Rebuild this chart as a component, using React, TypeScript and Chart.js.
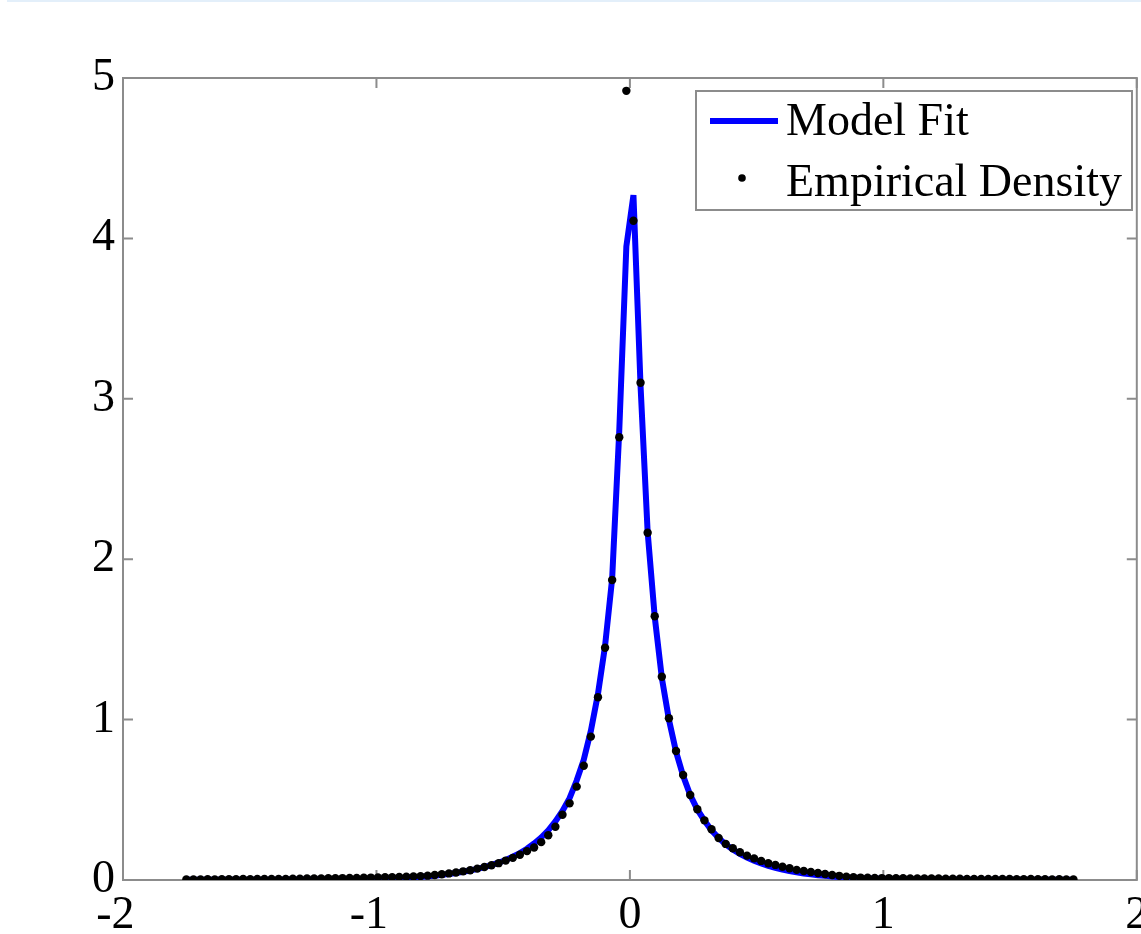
import React, { useEffect, useRef } from "react";
import { Chart, registerables } from "chart.js";

Chart.register(...registerables);

// x grid (bin centres) shared by both series
const xGrid: number[] = [
  -1.750, -1.722, -1.694, -1.666, -1.638, -1.610, -1.582, -1.554, -1.526, -1.498,
  -1.470, -1.442, -1.414, -1.386, -1.358, -1.330, -1.302, -1.274, -1.246, -1.218,
  -1.190, -1.162, -1.134, -1.106, -1.078, -1.050, -1.022, -0.994, -0.966, -0.938,
  -0.910, -0.882, -0.854, -0.826, -0.798, -0.770, -0.742, -0.714, -0.686, -0.658,
  -0.630, -0.602, -0.574, -0.546, -0.518, -0.490, -0.462, -0.434, -0.406, -0.378,
  -0.350, -0.322, -0.294, -0.266, -0.238, -0.210, -0.182, -0.154, -0.126, -0.098,
  -0.070, -0.042, -0.014,
  0.014, 0.042, 0.070, 0.098, 0.126, 0.154, 0.182, 0.210, 0.238, 0.266,
  0.294, 0.322, 0.350, 0.378, 0.406, 0.434, 0.462, 0.490, 0.518, 0.546,
  0.574, 0.602, 0.630, 0.658, 0.686, 0.714, 0.742, 0.770, 0.798, 0.826,
  0.854, 0.882, 0.910, 0.938, 0.966, 0.994, 1.022, 1.050, 1.078, 1.106,
  1.134, 1.162, 1.190, 1.218, 1.246, 1.274, 1.302, 1.330, 1.358, 1.386,
  1.414, 1.442, 1.470, 1.498, 1.526, 1.554, 1.582, 1.610, 1.638, 1.666,
  1.694, 1.722, 1.750,
];

const empiricalDensity: number[] = [
  0.004, 0.004, 0.004, 0.005, 0.004, 0.005, 0.005, 0.005, 0.006, 0.005,
  0.006, 0.006, 0.007, 0.006, 0.007, 0.008, 0.008, 0.009, 0.009, 0.010,
  0.011, 0.011, 0.012, 0.013, 0.013, 0.014, 0.015, 0.016, 0.017, 0.018,
  0.019, 0.020, 0.022, 0.024, 0.027, 0.031, 0.036, 0.041, 0.047, 0.054,
  0.061, 0.071, 0.081, 0.092, 0.105, 0.121, 0.138, 0.157, 0.180, 0.203,
  0.236, 0.279, 0.332, 0.407, 0.478, 0.582, 0.712, 0.894, 1.139, 1.448,
  1.870, 2.760, 4.920,
  4.110, 3.100, 2.165, 1.644, 1.267, 1.008, 0.804, 0.655, 0.530, 0.441,
  0.372, 0.316, 0.262, 0.225, 0.198, 0.173, 0.152, 0.135, 0.119, 0.104,
  0.094, 0.083, 0.073, 0.063, 0.056, 0.050, 0.044, 0.037, 0.031, 0.026,
  0.021, 0.018, 0.015, 0.014, 0.013, 0.012, 0.012, 0.011, 0.011, 0.010,
  0.010, 0.009, 0.009, 0.009, 0.008, 0.008, 0.008, 0.007, 0.007, 0.007,
  0.006, 0.006, 0.006, 0.006, 0.005, 0.005, 0.006, 0.005, 0.005, 0.004,
  0.005, 0.004, 0.004,
];

const modelFit: number[] = [
  0.001, 0.001, 0.001, 0.001, 0.001, 0.001, 0.001, 0.002, 0.002, 0.002,
  0.002, 0.002, 0.002, 0.002, 0.003, 0.003, 0.003, 0.003, 0.004, 0.004,
  0.004, 0.005, 0.005, 0.006, 0.006, 0.007, 0.008, 0.008, 0.009, 0.010,
  0.012, 0.014, 0.017, 0.020, 0.023, 0.027, 0.032, 0.037, 0.044, 0.051,
  0.059, 0.069, 0.080, 0.093, 0.108, 0.125, 0.145, 0.168, 0.195, 0.228,
  0.265, 0.310, 0.365, 0.430, 0.510, 0.620, 0.750, 0.930, 1.160, 1.460,
  1.880, 2.800, 3.950,
  4.270, 3.080, 2.170, 1.640, 1.260, 1.000, 0.800, 0.650, 0.530, 0.440,
  0.370, 0.310, 0.262, 0.222, 0.190, 0.163, 0.140, 0.120, 0.103, 0.088,
  0.076, 0.065, 0.056, 0.048, 0.041, 0.035, 0.030, 0.026, 0.022, 0.019,
  0.016, 0.014, 0.012, 0.010, 0.009, 0.008, 0.007, 0.006, 0.006, 0.005,
  0.005, 0.004, 0.004, 0.004, 0.003, 0.003, 0.003, 0.003, 0.002, 0.002,
  0.002, 0.002, 0.002, 0.002, 0.002, 0.001, 0.001, 0.001, 0.001, 0.001,
  0.001, 0.001, 0.001,
];

const xTicks: number[] = [-2, -1, 0, 1, 2];
const yTicks: number[] = [0, 1, 2, 3, 4, 5];
const seriesNames: string[] = ["Model Fit", "Empirical Density"];

const FONT = "46px 'Liberation Serif', 'Times New Roman', serif";
const FRAME = "#8c8c8c";
const BLUE = "rgb(0,0,255)";

const axesPlugin = {
  id: "matlabAxes",
  beforeDatasetsDraw(chart: any) {
    const { ctx, chartArea: a, scales } = chart;
    const xs = scales.x;
    const ys = scales.y;
    ctx.save();
    ctx.strokeStyle = FRAME;
    ctx.lineWidth = 2;
    ctx.strokeRect(a.left, a.top, a.right - a.left, a.bottom - a.top);
    const tl = 10;
    ctx.beginPath();
    for (const v of xTicks) {
      const px = xs.getPixelForValue(v);
      ctx.moveTo(px, a.bottom);
      ctx.lineTo(px, a.bottom - tl);
      ctx.moveTo(px, a.top);
      ctx.lineTo(px, a.top + tl);
    }
    for (const v of yTicks) {
      const py = ys.getPixelForValue(v);
      ctx.moveTo(a.left, py);
      ctx.lineTo(a.left + tl, py);
      ctx.moveTo(a.right, py);
      ctx.lineTo(a.right - tl, py);
    }
    ctx.stroke();

    // x tick labels: digits centred on tick, minus sign hanging to the left
    ctx.fillStyle = "#000";
    ctx.font = FONT;
    ctx.textBaseline = "alphabetic";
    ctx.textAlign = "left";
    for (const v of xTicks) {
      const px = xs.getPixelForValue(v);
      const label = String(v);
      const digits = String(Math.abs(v));
      const dw = ctx.measureText(digits).width;
      const fw = ctx.measureText(label).width;
      ctx.fillText(label, px + dw / 2 - fw, a.bottom + 48);
    }
    ctx.restore();
  },
  afterDatasetsDraw(chart: any) {
    const { ctx } = chart;
    ctx.save();
    // legend box
    const bx = 696, by = 91, bw = 436, bh = 119;
    ctx.fillStyle = "#fff";
    ctx.fillRect(bx, by, bw, bh);
    ctx.strokeStyle = FRAME;
    ctx.lineWidth = 2;
    ctx.strokeRect(bx, by, bw, bh);
    // model fit sample
    ctx.strokeStyle = BLUE;
    ctx.lineWidth = 6;
    ctx.beginPath();
    ctx.moveTo(710, 121);
    ctx.lineTo(778, 121);
    ctx.stroke();
    // dot sample
    ctx.fillStyle = "#000";
    ctx.beginPath();
    ctx.arc(742, 178, 3.8, 0, Math.PI * 2);
    ctx.fill();
    ctx.font = FONT;
    ctx.textAlign = "left";
    ctx.textBaseline = "alphabetic";
    ctx.fillText(seriesNames[0], 786, 135);
    ctx.fillText(seriesNames[1], 786, 196);
    ctx.restore();
  },
};

export default function App() {
  const ref = useRef<HTMLCanvasElement | null>(null);

  useEffect(() => {
    if (!ref.current) return;
    const modelPts = xGrid.map((x, i) => ({ x, y: modelFit[i] }));
    const empPts = xGrid.map((x, i) => ({ x, y: empiricalDensity[i] }));
    const chart = new Chart(ref.current, {
      type: "scatter",
      data: {
        datasets: [
          {
            label: seriesNames[0],
            data: modelPts,
            showLine: true,
            borderColor: BLUE,
            backgroundColor: BLUE,
            borderWidth: 6,
            pointRadius: 0,
            tension: 0,
            order: 2,
          },
          {
            label: seriesNames[1],
            data: empPts,
            showLine: false,
            pointRadius: 4.2,
            pointBackgroundColor: "#000",
            pointBorderColor: "#000",
            pointBorderWidth: 0,
            backgroundColor: "#000",
            borderColor: "#000",
            order: 1,
          },
        ],
      },
      options: {
        animation: false,
        responsive: false,
        devicePixelRatio: 1,
        events: [],
        layout: { padding: { left: 0, top: 78, right: 2, bottom: 0 } },
        plugins: {
          legend: { display: false },
          tooltip: { enabled: false },
          title: { display: false },
        },
        scales: {
          x: {
            type: "linear",
            min: -2,
            max: 2,
            grid: { display: false },
            border: { display: false },
            ticks: { display: false },
            afterFit: (s: any) => {
              s.height = 54;
            },
          },
          y: {
            type: "linear",
            min: 0,
            max: 5,
            grid: { display: false, drawTicks: false },
            border: { display: false },
            ticks: {
              stepSize: 1,
              padding: 8,
              color: "#000",
              font: { family: "'Liberation Serif', 'Times New Roman', serif", size: 46 },
            },
            afterFit: (s: any) => {
              s.width = 123;
            },
          },
        },
      },
      plugins: [axesPlugin],
    });
    return () => chart.destroy();
  }, []);

  return (
    <div
      style={{
        position: "absolute",
        left: 0,
        top: 0,
        width: 1141,
        height: 934,
        background: "#fff",
        overflow: "hidden",
      }}
    >
      <div
        style={{
          position: "absolute",
          left: 7,
          top: 0,
          right: 0,
          height: 2,
          background: "#e3effa",
        }}
      />
      <canvas ref={ref} width={1141} height={934} style={{ display: "block" }} />
    </div>
  );
}
